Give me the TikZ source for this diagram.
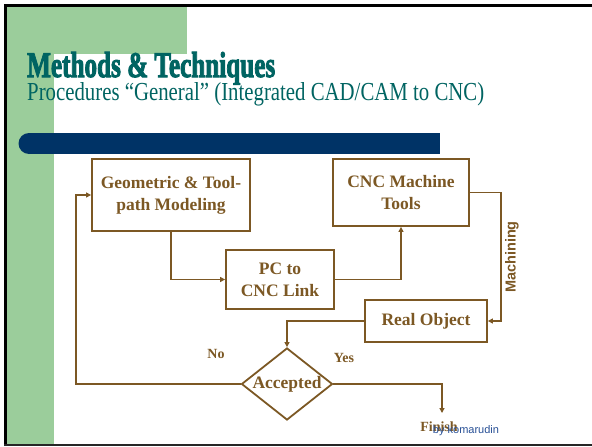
\documentclass[tikz,border=0pt]{standalone}
\usepackage{fontspec}
\setmainfont{Liberation Serif}
\newfontfamily\arialf{Liberation Sans}
\newfontfamily\titlef{Liberation Serif}[UprightFont=* Bold,FakeBold=3]
\usetikzlibrary{shapes.geometric,arrows.meta}
\definecolor{tealT}{RGB}{0,100,98}
\definecolor{brownB}{RGB}{124,88,36}
\definecolor{greenG}{RGB}{155,205,155}
\definecolor{barblue}{RGB}{0,51,102}
\definecolor{signblue}{RGB}{40,80,150}
\begin{document}
\begin{tikzpicture}[x=1pt,y=-1pt,
  boxtext/.style={text=brownB,font=\fontsize{17.5}{22}\selectfont\bfseries},
  stepbox/.style={draw=brownB,line width=1.8pt,fill=white,align=center,boxtext,inner sep=0pt},
  conn/.style={draw=brownB,line width=1.6pt,-{Triangle[length=5pt,width=5pt]}},
  lab/.style={text=brownB,font=\fontsize{14}{16}\selectfont\bfseries,inner sep=0pt}]
\useasboundingbox (0,0) rectangle (592,447);
\fill[white] (0,0) rectangle (592,447);
% green L
\fill[greenG] (7,7) rectangle (187,54);
\fill[greenG] (7,7) rectangle (54,444);
% frame
\fill[black] (4,4) rectangle (592,7);
\fill[black] (4,4) rectangle (7,446);
\fill[black!85] (4,444) rectangle (592,446);
% bar
\fill[barblue] (29,133) rectangle (440,154);
\fill[barblue] (29,143.5) circle (10.5pt);
% titles
\node[anchor=base west,inner sep=0pt,text=tealT] (title) at (27,77)
  {\resizebox{248pt}{25pt}{\fontsize{36}{40}\titlef Methods \& Techniques}};
\node[anchor=base west,inner sep=0pt,text=tealT] (sub) at (27,100)
  {\resizebox{457pt}{18pt}{\fontsize{21}{24}\selectfont Procedures “General” (Integrated CAD/CAM to CNC)}};
% boxes
\node[stepbox,minimum width=158pt,minimum height=72pt] (geo) at (171,195) {Geometric \& Tool-\\path Modeling};
\node[stepbox,minimum width=108pt,minimum height=59pt] (pc) at (280,279.5) {PC to\\CNC Link};
\node[stepbox,minimum width=136pt,minimum height=67pt] (cnc) at (401,192.5) {CNC Machine\\Tools};
\node[stepbox,minimum width=122pt,minimum height=42pt] (real) at (426,321) {Real Object};
\node[draw=brownB,line width=1.8pt,fill=white,diamond,aspect=1.26,inner sep=0pt,
  minimum width=91pt,minimum height=72pt,boxtext] (acc) at (287,384) {Accepted};
% connectors
\coordinate (mc) at (501,192.5);
\coordinate (nc) at (76,384);
\coordinate (fin) at (442,413);
\draw[conn] (geo.south) |- (pc.west);
\draw[conn] (pc.east) -| (cnc.south);
\draw[conn] (cnc.east) -- (mc) |- (real.east);
\draw[conn] (real.west) -| (acc.north);
\draw[conn] (acc.west) -- (nc) |- (geo.west);
\draw[conn] (acc.east) -| (fin);
% labels
\node[rotate=90,text=brownB,inner sep=0pt,font=\arialf\fontsize{14.5}{16}\selectfont\bfseries] (mach) at (512,257) {Machining};
\node[lab] (no) at (216,354) {No};
\node[lab] (yes) at (344,358) {Yes};
\node[lab] (finish) at (439,427) {Finish};
\node[text=signblue,inner sep=0pt,font=\arialf\fontsize{11}{12}\selectfont] (by) at (466,431) {by komarudin};
\end{tikzpicture}
\end{document}
